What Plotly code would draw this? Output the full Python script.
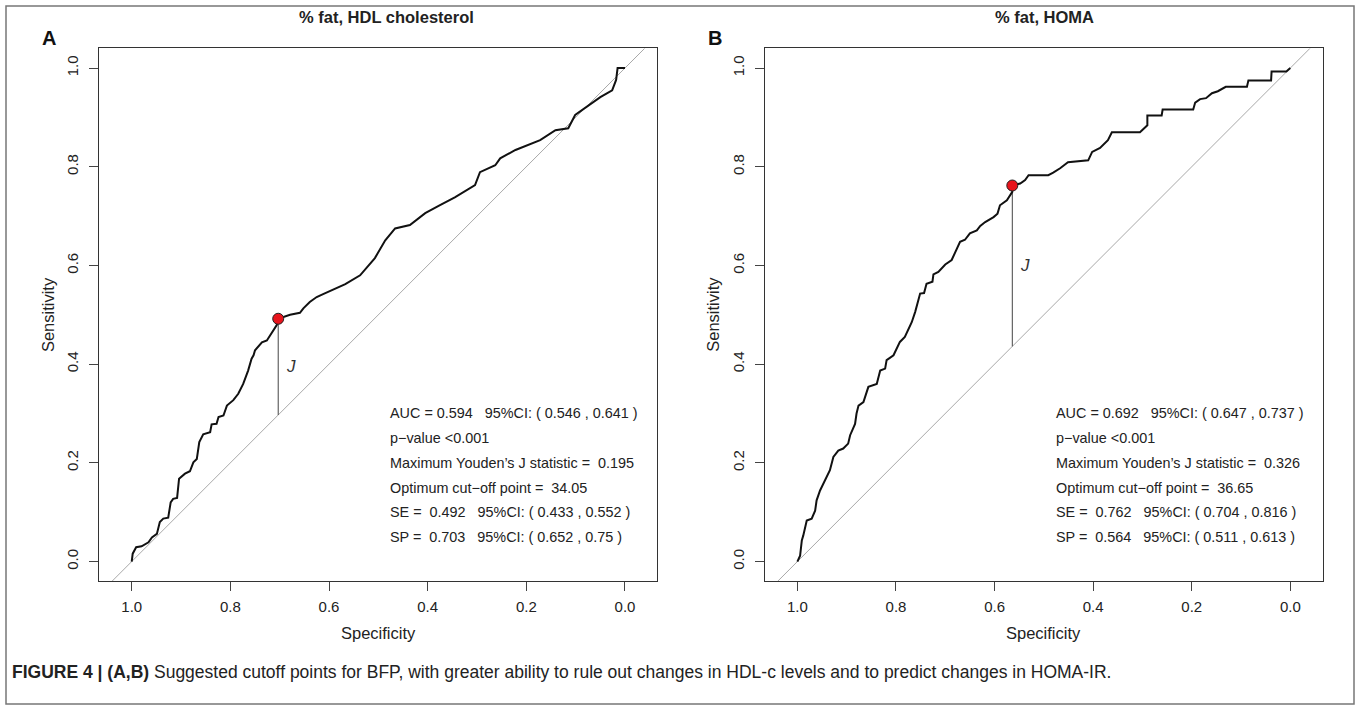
import plotly.graph_objects as go

# ---------------- data ----------------
spec_a = [1.0, 0.998, 0.991, 0.980, 0.966, 0.959, 0.949, 0.943, 0.936, 0.926, 0.921, 0.916, 0.908,
          0.904, 0.892, 0.882, 0.875, 0.868, 0.863, 0.855, 0.841, 0.838, 0.828, 0.824, 0.814, 0.807,
          0.794, 0.784, 0.774, 0.764, 0.757, 0.753, 0.750, 0.736, 0.726, 0.716, 0.706, 0.703, 0.679,
          0.659, 0.652, 0.639, 0.625, 0.612, 0.598, 0.567, 0.537, 0.507, 0.486, 0.466, 0.436, 0.405,
          0.375, 0.345, 0.304, 0.294, 0.263, 0.253, 0.222, 0.202, 0.172, 0.141, 0.115, 0.101, 0.081,
          0.050, 0.026, 0.018, 0.015, 0.0]
sens_a = [0.0, 0.016, 0.029, 0.031, 0.039, 0.049, 0.056, 0.080, 0.087, 0.089, 0.120, 0.127, 0.129,
          0.168, 0.178, 0.183, 0.201, 0.208, 0.242, 0.258, 0.262, 0.278, 0.279, 0.293, 0.296, 0.316,
          0.327, 0.340, 0.360, 0.387, 0.411, 0.418, 0.428, 0.444, 0.448, 0.465, 0.479, 0.492, 0.500,
          0.504, 0.513, 0.526, 0.536, 0.542, 0.548, 0.562, 0.580, 0.615, 0.651, 0.675, 0.682, 0.706,
          0.722, 0.738, 0.763, 0.789, 0.803, 0.817, 0.834, 0.842, 0.854, 0.874, 0.878, 0.905, 0.919,
          0.941, 0.955, 0.976, 1.0, 1.0]

spec_b = [1.0, 0.9945, 0.991, 0.988, 0.981, 0.971, 0.964, 0.961, 0.954, 0.947, 0.940, 0.934, 0.927,
          0.917, 0.907, 0.897, 0.893, 0.883, 0.880, 0.876, 0.866, 0.861, 0.856, 0.839, 0.832, 0.822,
          0.819, 0.805, 0.792, 0.782, 0.768, 0.761, 0.755, 0.751, 0.743, 0.738, 0.726, 0.724, 0.714,
          0.700, 0.687, 0.680, 0.670, 0.660, 0.650, 0.636, 0.629, 0.619, 0.602, 0.594, 0.589, 0.575,
          0.564, 0.564, 0.548, 0.538, 0.531, 0.491, 0.481, 0.467, 0.451, 0.410, 0.402, 0.386, 0.370,
          0.362, 0.305, 0.290, 0.290, 0.261, 0.259, 0.197, 0.193, 0.183, 0.171, 0.159, 0.147, 0.131,
          0.088, 0.085, 0.039, 0.038, 0.008, 0.0]
sens_b = [0.0, 0.012, 0.043, 0.053, 0.083, 0.087, 0.103, 0.124, 0.144, 0.158, 0.171, 0.185, 0.212,
          0.225, 0.229, 0.239, 0.256, 0.279, 0.300, 0.316, 0.323, 0.340, 0.354, 0.360, 0.387, 0.391,
          0.408, 0.418, 0.445, 0.455, 0.485, 0.506, 0.526, 0.543, 0.544, 0.563, 0.567, 0.582, 0.587,
          0.602, 0.611, 0.627, 0.648, 0.652, 0.665, 0.671, 0.680, 0.688, 0.698, 0.705, 0.722, 0.732,
          0.749, 0.762, 0.766, 0.773, 0.783, 0.783, 0.788, 0.797, 0.809, 0.813, 0.830, 0.838, 0.854,
          0.870, 0.870, 0.884, 0.904, 0.904, 0.916, 0.916, 0.930, 0.937, 0.939, 0.949, 0.953, 0.962,
          0.962, 0.975, 0.975, 0.993, 0.993, 1.0]

cut_spec = [0.703, 0.564]
cut_sens = [0.492, 0.762]
panel_titles = ["% fat, HDL cholesterol", "% fat, HOMA"]
panel_letters = ["A", "B"]
tick_vals = [1.0, 0.8, 0.6, 0.4, 0.2, 0.0]
tick_text = ["1.0", "0.8", "0.6", "0.4", "0.2", "0.0"]
stats_a = ["AUC = 0.594   95%CI: ( 0.546 , 0.641 )", "p\u2212value <0.001",
           "Maximum Youden\u2019s J statistic =  0.195", "Optimum cut\u2212off point =  34.05",
           "SE =  0.492   95%CI: ( 0.433 , 0.552 )", "SP =  0.703   95%CI: ( 0.652 , 0.75 )"]
stats_b = ["AUC = 0.692   95%CI: ( 0.647 , 0.737 )", "p\u2212value <0.001",
           "Maximum Youden\u2019s J statistic =  0.326", "Optimum cut\u2212off point =  36.65",
           "SE =  0.762   95%CI: ( 0.704 , 0.816 )", "SP =  0.564   95%CI: ( 0.511 , 0.613 )"]
stats_y = [0.30, 0.25, 0.20, 0.15, 0.10, 0.05]
caption_bold = "FIGURE 4 | (A,B)"
caption_text = (" Suggested cutoff points for BFP, with greater ability to rule out changes in "
                "HDL-c levels and to predict changes in HOMA-IR.")

# ---------------- layout geometry ----------------
W, H = 1360, 708
FONT = "Liberation Sans, Arial, sans-serif"
doms_x = [(99.3, 657.3), (765.0, 1322.6)]
dom_y = (48.3, 581.3)
title_cx = [386, 1044]


def px(x):
    return x / W


def py(y):
    return 1 - y / H


fig = go.Figure()
curves = [(spec_a, sens_a), (spec_b, sens_b)]
stats = [stats_a, stats_b]

for i in range(2):
    xa = "x" if i == 0 else "x2"
    ya = "y" if i == 0 else "y2"
    sp, se = curves[i]
    # diagonal reference line
    fig.add_trace(go.Scatter(x=[1.04, -0.04], y=[-0.04, 1.04], mode="lines",
                             line=dict(color="#a8a8a8", width=1), xaxis=xa, yaxis=ya,
                             hoverinfo="skip", showlegend=False))
    # Youden J segment
    fig.add_trace(go.Scatter(x=[cut_spec[i], cut_spec[i]], y=[cut_sens[i], 1 - cut_spec[i]],
                             mode="lines", line=dict(color="#444444", width=1),
                             xaxis=xa, yaxis=ya, showlegend=False))
    # ROC curve
    fig.add_trace(go.Scatter(x=sp, y=se, mode="lines", line=dict(color="#111111", width=2),
                             xaxis=xa, yaxis=ya, showlegend=False))
    # optimum cut-off point
    fig.add_trace(go.Scatter(x=[cut_spec[i]], y=[cut_sens[i]], mode="markers",
                             marker=dict(size=11, color="#e8141c", line=dict(color="#222", width=1)),
                             xaxis=xa, yaxis=ya, showlegend=False))
    # J label
    fig.add_annotation(x=cut_spec[i] - 0.025, y=(cut_sens[i] + 1 - cut_spec[i]) / 2,
                       xref=xa, yref=ya, text="<i>J</i>", showarrow=False,
                       font=dict(family=FONT, size=17, color="#333"), xanchor="center")
    # stats text
    for t, yv in zip(stats[i], stats_y):
        fig.add_annotation(x=0.48, y=yv, xref=xa, yref=ya, text=t, showarrow=False,
                           xanchor="left", yanchor="middle",
                           font=dict(family=FONT, size=14.4, color="#222"))
    x0, x1 = doms_x[i]
    cx = (x0 + x1) / 2
    # panel title
    fig.add_annotation(x=px(title_cx[i]), y=py(17), xref="paper", yref="paper",
                       text="<b>" + panel_titles[i] + "</b>", showarrow=False,
                       xanchor="center", yanchor="middle",
                       font=dict(family=FONT, size=16.5, color="#222"))
    # panel letter
    fig.add_annotation(x=px(x0 - 50), y=py(38), xref="paper", yref="paper",
                       text="<b>" + panel_letters[i] + "</b>", showarrow=False,
                       xanchor="center", yanchor="middle",
                       font=dict(family=FONT, size=20, color="#111"))
    # axis titles
    fig.add_annotation(x=px(cx), y=py(633), xref="paper", yref="paper", text="Specificity",
                       showarrow=False, font=dict(family=FONT, size=16.5, color="#222"),
                       xanchor="center", yanchor="middle")
    fig.add_annotation(x=px(x0 - 52), y=py((dom_y[0] + dom_y[1]) / 2), xref="paper",
                       yref="paper", text="Sensitivity", textangle=-90, showarrow=False,
                       font=dict(family=FONT, size=16.5, color="#222"),
                       xanchor="center", yanchor="middle")

axis_common = dict(showgrid=False, zeroline=False, showline=True, mirror=True,
                   linecolor="#333", linewidth=1, ticks="outside", ticklen=9,
                   tickcolor="#444", tickwidth=1, tickvals=tick_vals, ticktext=tick_text,
                   tickfont=dict(family=FONT, size=15, color="#222"))

layout = dict(width=W, height=H, margin=dict(l=0, r=0, t=0, b=0),
              plot_bgcolor="white", paper_bgcolor="white", showlegend=False)
for i in range(2):
    sx = "" if i == 0 else "2"
    x0, x1 = doms_x[i]
    layout["xaxis" + sx] = dict(axis_common, domain=[px(x0), px(x1)], range=[1.0657, -0.0655],
                                anchor="y" + sx, ticklabelstandoff=3)
    layout["yaxis" + sx] = dict(axis_common, domain=[py(dom_y[1]), py(dom_y[0])],
                                range=[-0.04, 1.04], anchor="x" + sx, tickangle=-90,
                                ticklabelstandoff=5)
fig.update_layout(**layout)

# outer frame
fig.add_shape(type="rect", xref="paper", yref="paper", x0=px(6), x1=px(1354), y0=py(704),
              y1=py(6), line=dict(color="#777", width=1.5), fillcolor="rgba(0,0,0,0)")
# caption
fig.add_annotation(x=px(10), y=py(672), xref="paper", yref="paper",
                   text="<b>" + caption_bold + "</b>" + caption_text, showarrow=False,
                   xanchor="left", yanchor="middle",
                   font=dict(family=FONT, size=17.5, color="#222"))

fig.write_html("out.html")
